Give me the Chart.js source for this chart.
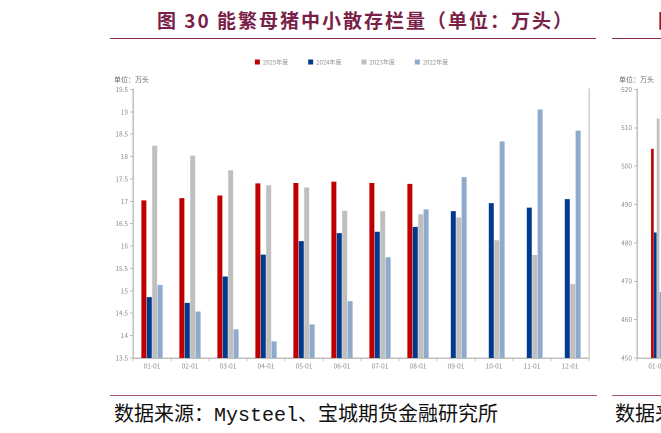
<!DOCTYPE html>
<html>
<head>
<meta charset="utf-8">
<script src="https://cdn.jsdelivr.net/npm/chart.js@4.4.1/dist/chart.umd.min.js"></script>
<style>
  html, body { margin: 0; padding: 0; background: #fff; }
  body { width: 661px; height: 433px; position: relative; overflow: hidden; font-family: "Noto Sans CJK SC", sans-serif; }
  .title { position: absolute; top: 6px; font-size: 19px; font-weight: bold; color: #7a1f48; letter-spacing: 2px; white-space: nowrap; }
  .rule { position: absolute; height: 1px; }
  .source { position: absolute; top: 398px; font-size: 20px; color: #111; white-space: nowrap; }
  .source .mono { font-family: "Liberation Mono", monospace; }
  canvas { position: absolute; }
</style>
</head>
<body>
<div class="title" style="left:157px">图 30 能繁母猪中小散存栏量（单位：万头）</div>
<div class="rule" style="left:110px; top:38px; width:486px; background:#8c2a55"></div>
<div class="title" style="left:658px">图 31</div>
<div class="rule" style="left:612px; top:38px; width:60px; background:#8c2a55"></div>

<canvas id="main"></canvas>
<canvas id="side"></canvas>

<div class="rule" style="left:110px; top:395px; width:487px; background:#a8577a"></div>
<div class="source" style="left:114px">数据来源：<span class="mono">Mysteel</span>、宝城期货金融研究所</div>
<div class="rule" style="left:612px; top:395px; width:60px; background:#a8577a"></div>
<div class="source" style="left:615px">数据来源：<span class="mono">Mysteel</span>、宝城期货金融研究所</div>

<script>
// 月份和年度
const months = ['01-01', '02-01', '03-01', '04-01', '05-01', '06-01', '07-01', '08-01', '09-01', '10-01', '11-01', '12-01'];
const seriesNames = ['2025年度', '2024年度', '2023年度', '2022年度'];
const seriesColors = ['#c00000', '#003a8c', '#bfbfbf', '#8eaacd'];

// 图30：中小散存栏（万头）
const small2025 = [17.02, 17.07, 17.13, 17.40, 17.41, 17.44, 17.41, 17.39, null, null, null, null];
const small2024 = [14.86, 14.73, 15.32, 15.81, 16.11, 16.29, 16.32, 16.43, 16.78, 16.96, 16.86, 17.05];
const small2023 = [18.24, 18.02, 17.69, 17.36, 17.31, 16.79, 16.78, 16.71, 16.64, 16.13, 15.80, 15.15];
const small2022 = [15.13, 14.54, 14.14, 13.87, 14.25, 14.77, 15.75, 16.82, 17.54, 18.34, 19.05, 18.58];

// 图31：只看得到第一个月
const side2025 = [504.5, null, null, null, null, null, null, null, null, null, null, null];
const side2024 = [482.7, null, null, null, null, null, null, null, null, null, null, null];
const side2023 = [512.4, null, null, null, null, null, null, null, null, null, null, null];
const side2022 = [467.2, null, null, null, null, null, null, null, null, null, null, null];

const gray = '#8c8c8c';
const axisColor = '#bfbfbf';
Chart.defaults.font.family = '"Noto Sans CJK SC", sans-serif';
Chart.defaults.animation = false;

function setupCanvas(id, left, top, w, h) {
    const c = document.getElementById(id);
    c.style.left = left + 'px';
    c.style.top = top + 'px';
    c.width = w;
    c.height = h;
    return c;
}

function makeChart(canvas, values, yMin, yMax, step, yWidth, catPct, barPct, padRight) {
    return new Chart(canvas, {
        type: 'bar',
        data: {
            labels: months,
            datasets: values.map((v, i) => ({
                label: seriesNames[i],
                data: v,
                backgroundColor: seriesColors[i],
                borderWidth: 0,
                categoryPercentage: catPct,
                barPercentage: barPct
            }))
        },
        options: {
            responsive: false,
            devicePixelRatio: 2,
            layout: { padding: { left: 0, right: padRight, top: 0, bottom: 0 } },
            plugins: {
                legend: {
                    position: 'top',
                    weight: 3000,
                    labels: { boxWidth: 5, boxHeight: 5, padding: 20, color: gray, font: { size: 6 } }
                },
                title: {
                    display: true,
                    text: '单位：万头',
                    align: 'start',
                    color: '#666',
                    font: { size: 7, weight: 'normal' },
                    padding: { top: 0, bottom: 6 }
                },
                tooltip: { enabled: false }
            },
            scales: {
                x: {
                    grid: { drawOnChartArea: false, tickLength: 3, color: axisColor },
                    border: { color: axisColor, width: 1.5 },
                    ticks: { color: gray, font: { size: 6.5 }, padding: 1, maxRotation: 0 },
                    afterFit: s => { s.height = 16; }
                },
                y: {
                    min: yMin, max: yMax,
                    grid: { drawOnChartArea: false, tickLength: 3, color: axisColor },
                    border: { color: axisColor, width: 1.5 },
                    ticks: { stepSize: step, color: gray, font: { size: 6.5 }, padding: 2, callback: v => String(v) },
                    afterFit: s => { s.width = yWidth; }
                },
                y2: {
                    position: 'right',
                    min: yMin, max: yMax,
                    grid: { drawOnChartArea: false, drawTicks: false },
                    border: { color: '#d0d0d0', width: 1.5 },
                    ticks: { display: false },
                    afterFit: s => { s.width = 0; }
                }
            }
        }
    });
}

makeChart(setupCanvas('main', 114, 39, 484, 335),
    [small2025, small2024, small2023, small2022], 13.5, 19.5, 0.5, 19, 0.57, 0.92, 9);

makeChart(setupCanvas('side', 619, 39, 500, 335),
    [side2025, side2024, side2023, side2022], 450, 520, 10, 18, 0.29, 0.93, 10);
</script>
</body>
</html>
